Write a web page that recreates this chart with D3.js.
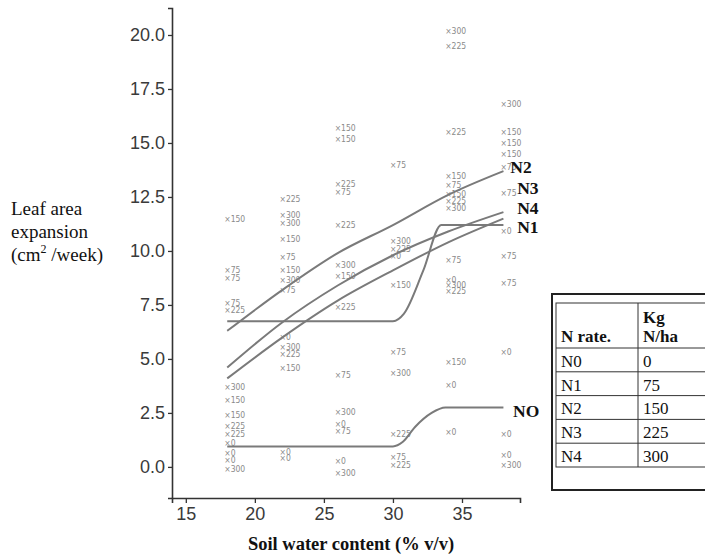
<!DOCTYPE html>
<html><head><meta charset="utf-8">
<script src="https://cdn.jsdelivr.net/npm/d3@7"></script>
<style>
html,body{margin:0;padding:0;background:#fff;}
svg{display:block;}
</style></head>
<body><svg id="c" width="705" height="559"></svg>
<script>
// ---- Data ----
const xTicks = [15, 20, 25, 30, 35];
const yTicks = [0, 2.5, 5, 7.5, 10, 12.5, 15, 17.5, 20];

// observed points: soil water content, leaf area expansion, N rate label
const pointSWC = [
  18,18,18,18,18,18,18,18,18,18,18,18,18,18,
  22,22,22,22,22,22,22,22,22,22,22,22,22,22,
  26,26,26,26,26,26,26,26,26,26,26,26,26,26,
  30,30,30,30,30,30,30,30,30,30,
  34,34,34,34,34,34,34,34,34,34,34,34,34,34,34,
  38,38,38,38,38,38,38,38,38,38,38,38,38
];
const pointLAE = [
  11.5,9.1,8.75,7.6,7.25,3.7,3.1,2.4,1.9,1.5,1.1,0.65,0.3,-0.1,
  12.4,11.65,11.3,10.55,9.7,9.1,8.65,8.2,6.0,5.55,5.25,4.6,0.7,0.4,
  15.7,15.2,13.1,12.75,11.2,9.35,8.85,7.4,4.26,2.55,2.0,1.65,0.25,-0.3,
  14.0,10.45,10.1,9.75,8.4,5.3,4.35,1.5,0.45,0.1,
  20.2,19.5,15.5,13.45,13.05,12.65,12.0,9.6,8.65,8.4,8.15,4.85,3.8,1.6,12.3,
  16.8,15.5,15.0,14.5,13.9,12.7,10.9,9.75,8.5,5.3,1.5,0.55,0.1
];
const pointRate = [
  "150","75","75","75","225","300","150","150","225","225","0","0","0","300",
  "225","300","300","150","75","150","300","75","0","300","225","150","0","0",
  "150","150","225","75","225","300","150","225","75","300","0","75","0","300",
  "75","300","225","0","150","75","300","225","75","225",
  "300","225","225","150","75","150","300","75","0","300","225","150","0","0","225",
  "300","150","150","150","75","75","0","75","75","0","0","0","300"
];

// fitted response curves
const seriesNames = ["N0", "N1", "N2", "N3", "N4"];
const curveSWC = {
  N0: [18, 30, 30.7, 31.6, 32.8, 33.8, 38],
  N1: [18, 30, 30.8, 32.2, 33.5, 38],
  N2: [18, 22, 26, 30, 34, 38],
  N3: [18, 22, 26, 30, 34, 38],
  N4: [18, 22, 26, 30, 34, 38]
};
const curveLAE = {
  N0: [0.95, 0.95, 1.15, 1.85, 2.5, 2.75, 2.75],
  N1: [6.75, 6.75, 7.1, 9.1, 11.2, 11.2],
  N2: [6.3, 8.2, 9.9, 11.2, 12.6, 13.7],
  N3: [4.6, 6.7, 8.4, 9.8, 10.9, 11.8],
  N4: [4.1, 6.0, 7.7, 9.1, 10.4, 11.5]
};
const curveLabels = ["NO", "N1", "N2", "N3", "N4"];

// legend table
const tableHeader = ["N rate.", ["Kg", "N/ha"]];
const tableRates = ["N0", "N1", "N2", "N3", "N4"];
const tableKg = ["0", "75", "150", "225", "300"];

// ---- Drawing ----
const svg = d3.select("#c");
const x = d3.scaleLinear().domain([14, 39.2]).range([172, 520]);
const y = d3.scaleLinear().domain([-1.44, 21.25]).range([498, 8]);

const axisColor = "#333";
const tickFont = "'Liberation Sans', Arial, sans-serif";
const serif = "'Liberation Serif', 'Times New Roman', serif";

// y axis
const gy = svg.append("g").attr("transform", `translate(${x.range()[0]},0)`)
  .call(d3.axisLeft(y).tickValues(yTicks).tickFormat(d3.format(".1f")).tickSizeOuter(0).tickSize(4).tickPadding(3));
gy.select(".domain").attr("stroke", axisColor).attr("stroke-width", 1.6);
gy.selectAll(".tick line").attr("stroke", axisColor).attr("stroke-width", 1.3);
gy.selectAll(".tick text").attr("font-family", tickFont).attr("font-size", 18).attr("fill", "#3a3a3a");

// x axis
const gx = svg.append("g").attr("transform", `translate(0,${y.range()[0]})`)
  .call(d3.axisBottom(x).tickValues(xTicks).tickFormat(d3.format("d")).tickSizeOuter(0).tickSize(5).tickPadding(4));
gx.select(".domain").attr("stroke", axisColor).attr("stroke-width", 1.6);
gx.selectAll(".tick line").attr("stroke", axisColor).attr("stroke-width", 1.3);
gx.selectAll(".tick text").attr("font-family", tickFont).attr("font-size", 18).attr("fill", "#3a3a3a");

// axis titles
svg.append("text").attr("x", 351).attr("y", 550).attr("text-anchor", "middle")
  .attr("font-family", serif).attr("font-weight", "bold").attr("font-size", 18.5)
  .attr("fill", "#111").text("Soil water content (% v/v)");

const yt = svg.append("g").attr("font-family", serif).attr("font-size", 19).attr("fill", "#111");
yt.append("text").attr("x", 11).attr("y", 215).text("Leaf area");
yt.append("text").attr("x", 11).attr("y", 238).text("expansion");
const t3 = yt.append("text").attr("x", 11).attr("y", 261);
t3.append("tspan").text("(cm");
t3.append("tspan").attr("font-size", 12).attr("dy", -8).text("2");
t3.append("tspan").attr("dy", 8).text(" /week)");

// scatter labels
const pts = pointSWC.map((s, i) => ({s, v: pointLAE[i], r: pointRate[i]}));
svg.append("g").selectAll("text").data(pts).join("text")
  .attr("x", d => x(d.s) - 3)
  .attr("y", d => y(d.v))
  .attr("dy", "0.35em")
  .attr("font-family", "'Liberation Sans Narrow', 'DejaVu Sans Condensed', sans-serif")
  .attr("font-size", 8.5)
  .attr("fill", "#8a8a8a")
  .text(d => "×" + d.r);

// curves
const line = d3.line().x(d => x(d[0])).y(d => y(d[1])).curve(d3.curveMonotoneX);
seriesNames.forEach(n => {
  const p = curveSWC[n].map((s, i) => [s, curveLAE[n][i]]);
  svg.append("path").datum(p).attr("d", line)
    .attr("fill", "none").attr("stroke", "#7a7a7a").attr("stroke-width", 2);
});

// curve labels (positions near curve ends)
const labelPos = {NO: [38.7, 2.3], N1: [39.0, 10.85], N2: [38.5, 13.6], N3: [39.0, 12.65], N4: [39.0, 11.7]};
curveLabels.forEach(n => {
  svg.append("text").attr("x", x(labelPos[n][0])).attr("y", y(labelPos[n][1]))
    .attr("font-family", serif).attr("font-weight", "bold").attr("font-size", 17.5)
    .attr("fill", "#111").text(n);
});

// legend table
const tg = svg.append("g");
tg.append("rect").attr("x", 552).attr("y", 294).attr("width", 170).attr("height", 196)
  .attr("fill", "#fff").attr("stroke", "#222").attr("stroke-width", 2);
const rowTop = 303, headerH = 45, rowH = 23.8, colX = [556, 638];
const tableBottom = rowTop + headerH + rowH * tableRates.length;
tg.append("rect").attr("x", colX[0]).attr("y", rowTop).attr("width", 160).attr("height", tableBottom - rowTop)
  .attr("fill", "none").attr("stroke", "#333").attr("stroke-width", 1);
tg.append("line").attr("x1", colX[1]).attr("x2", colX[1]).attr("y1", rowTop).attr("y2", tableBottom)
  .attr("stroke", "#333").attr("stroke-width", 1);
d3.range(tableRates.length).forEach(i => {
  const yy = rowTop + headerH + rowH * i;
  tg.append("line").attr("x1", colX[0]).attr("x2", 716).attr("y1", yy).attr("y2", yy)
    .attr("stroke", "#333").attr("stroke-width", 1);
  tg.append("text").attr("x", colX[0] + 5).attr("y", yy + rowH - 5)
    .attr("font-family", serif).attr("font-size", 17).attr("fill", "#111").text(tableRates[i]);
  tg.append("text").attr("x", colX[1] + 5).attr("y", yy + rowH - 5)
    .attr("font-family", serif).attr("font-size", 17).attr("fill", "#111").text(tableKg[i]);
});
tg.append("text").attr("x", colX[0] + 5).attr("y", rowTop + headerH - 6)
  .attr("font-family", serif).attr("font-weight", "bold").attr("font-size", 17).attr("fill", "#111").text(tableHeader[0]);
tg.append("text").attr("x", colX[1] + 5).attr("y", rowTop + 20)
  .attr("font-family", serif).attr("font-weight", "bold").attr("font-size", 17).attr("fill", "#111").text(tableHeader[1][0]);
tg.append("text").attr("x", colX[1] + 5).attr("y", rowTop + headerH - 6)
  .attr("font-family", serif).attr("font-weight", "bold").attr("font-size", 17).attr("fill", "#111").text(tableHeader[1][1]);
</script>
</body></html>
